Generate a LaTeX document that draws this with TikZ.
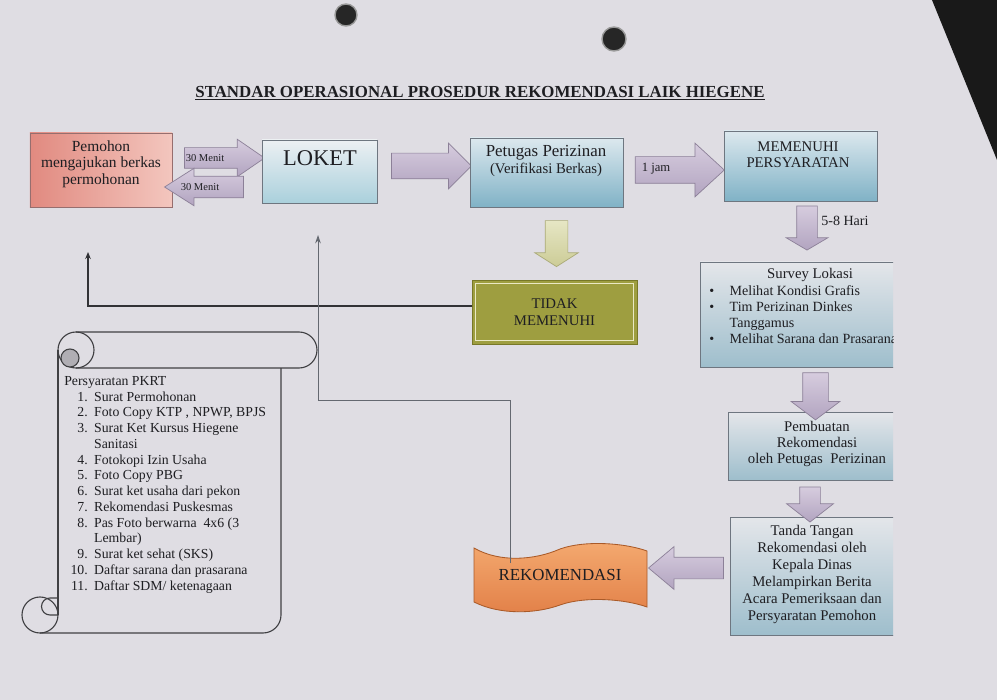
\documentclass[tikz,border=0pt]{standalone}
\usepackage{fontspec}
\setmainfont{Liberation Serif}
\usetikzlibrary{shapes.arrows,arrows.meta}

\definecolor{paper}{RGB}{223,221,227}
\definecolor{ink}{RGB}{30,30,34}
\definecolor{pinkdark}{RGB}{225,138,128}
\definecolor{pinklight}{RGB}{243,198,190}
\definecolor{pinkline}{RGB}{150,110,110}
\definecolor{paletop}{RGB}{236,240,243}
\definecolor{palebot}{RGB}{170,208,220}
\definecolor{bluetop}{RGB}{220,232,238}
\definecolor{bluebot}{RGB}{128,178,198}
\definecolor{greytop}{RGB}{228,230,234}
\definecolor{greybot}{RGB}{158,190,204}
\definecolor{boxline}{RGB}{110,118,128}
\definecolor{arrowtop}{RGB}{214,204,222}
\definecolor{arrowbot}{RGB}{178,164,192}
\definecolor{arrowline}{RGB}{140,128,152}
\definecolor{khakitop}{RGB}{230,230,196}
\definecolor{khakibot}{RGB}{204,204,150}
\definecolor{khakiline}{RGB}{170,170,120}
\definecolor{tidakfill}{RGB}{158,158,64}
\definecolor{tidakline}{RGB}{120,120,40}
\definecolor{cream}{RGB}{234,232,196}
\definecolor{orangetop}{RGB}{244,170,112}
\definecolor{orangebot}{RGB}{226,128,72}
\definecolor{orangeline}{RGB}{170,90,40}
\definecolor{curl}{RGB}{176,174,180}
\definecolor{backline}{RGB}{50,50,54}
\definecolor{thinline}{RGB}{100,104,112}

\tikzset{
	flowbox/.style={draw=boxline, line width=0.5pt, inner sep=0pt},
	pinkbox/.style={flowbox, draw=pinkline, left color=pinkdark, right color=pinklight},
	palebox/.style={flowbox, top color=paletop, bottom color=palebot},
	bluebox/.style={flowbox, top color=bluetop, bottom color=bluebot},
	greybox/.style={flowbox, top color=greytop, bottom color=greybot},
	boxtext/.style={text=ink, align=center, inner sep=0pt},
	blockarrow/.style={single arrow, draw=arrowline, line width=0.5pt, top color=arrowtop, bottom color=arrowbot},
	khakiarrow/.style={blockarrow, draw=khakiline, top color=khakitop, bottom color=khakibot},
	feedback/.style={draw=backline, line width=0.9pt, -{Stealth[length=5pt,width=4pt]}},
	returnline/.style={draw=thinline, line width=0.6pt, -{Stealth[length=6pt,width=4pt]}},
	scroll/.style={draw=ink!85, line width=0.8pt},
}

\begin{document}
\begin{tikzpicture}[x=0.25mm, y=-0.25mm]
	\useasboundingbox (0,0) rectangle (997,700);
	\fill[paper] (0,0) rectangle (997,700);
	\fill[black!90] (932,0) -- (997,0) -- (997,160) -- cycle;
	\filldraw[fill=black!85, draw=black!40, line width=1pt] (346,15) circle[radius=11];
	\filldraw[fill=black!85, draw=black!40, line width=1pt] (614,39) circle[radius=12];

	\node[font=\bfseries\fontsize{12}{14}\selectfont, text=ink] (judul) at (480,93) {\underline{STANDAR OPERASIONAL PROSEDUR REKOMENDASI LAIK HIEGENE}};

	\node[pinkbox, minimum width=35.5mm, minimum height=18.5mm] (pemohon) at (101,170) {};
	\node[boxtext, font=\fontsize{11}{11.8}\selectfont] (pemohon text) at (101,164) {Pemohon\\mengajukan berkas\\permohonan};

	\node[blockarrow, minimum height=20mm, inner sep=2.5mm, single arrow head extend=2.1mm, single arrow tip angle=69] (menit in) at (217,158) {};
	\node[boxtext, font=\fontsize{7.5}{8}\selectfont] (menit in text) at (205,158) {30 Menit};
	\node[blockarrow, shape border rotate=180, minimum height=19.75mm, inner sep=2.6mm, single arrow head extend=2mm, single arrow tip angle=65] (menit out) at (212.5,187) {};
	\node[boxtext, font=\fontsize{7.5}{8}\selectfont] (menit out text) at (200,187) {30 Menit};

	\node[palebox, minimum width=28.75mm, minimum height=15.75mm] (loket) at (319.5,171.5) {};
	\node[boxtext, font=\fontsize{16}{18}\selectfont] (loket text) at (320,158) {LOKET};

	\node[blockarrow, minimum height=20mm, inner sep=3.125mm, single arrow head extend=2.5mm] (ke petugas) at (425,166) {};

	\node[bluebox, minimum width=38.25mm, minimum height=17.25mm] (petugas) at (546.5,172.5) {};
	\node[boxtext, font=\fontsize{12}{12.2}\selectfont] (petugas text) at (546,161) {Petugas Perizinan\\{\fontsize{10.5}{12}\selectfont(Verifikasi Berkas)}};

	\node[blockarrow, minimum height=22.25mm, inner sep=3.25mm, single arrow head extend=3.375mm, single arrow tip angle=85] (ke memenuhi) at (672.5,170) {};
	\node[boxtext, font=\fontsize{9}{10}\selectfont] (jam text) at (656,169) {1 jam};

	\node[bluebox, minimum width=38.25mm, minimum height=17.5mm] (memenuhi) at (800.5,166) {};
	\node[boxtext, font=\fontsize{10.5}{11.6}\selectfont] (memenuhi text) at (798,155) {MEMENUHI\\PERSYARATAN};

	\node[blockarrow, shape border rotate=270, minimum height=11mm, inner sep=2.5mm, single arrow head extend=2.6mm, single arrow tip angle=119] (ke survey) at (807,225) {};
	\node[boxtext, anchor=west, font=\fontsize{10}{11}\selectfont] (hari text) at (821,221) {5-8 Hari};

	\node[khakiarrow, shape border rotate=270, minimum height=11.5mm, inner sep=2.75mm, single arrow head extend=2.6mm, single arrow tip angle=115] (ke tidak) at (556.5,240) {};

	\node[draw=tidakline, fill=tidakfill, minimum width=41.25mm, minimum height=16mm, inner sep=0pt] (tidak) at (554.5,312) {};
	\draw[cream, line width=1pt] ([shift={(4,-4)}]tidak.south west) rectangle ([shift={(-4,4)}]tidak.north east);
	\node[boxtext, font=\fontsize{10.5}{12}\selectfont] (tidak text) at (554.5,312) {TIDAK\\MEMENUHI};

	\begin{scope}
		\clip (690,250) rectangle (893,650);
		\node[greybox, minimum width=52.5mm, minimum height=26.25mm] (survey) at (805,314.5) {};
		\node[boxtext, font=\fontsize{10.5}{12}\selectfont] (survey title) at (810,275) {Survey Lokasi};
		\node[boxtext, align=left, anchor=north west, font=\fontsize{10}{11.4}\selectfont] (survey list) at (709,284) {\begin{tabular}{@{}l@{\hspace{11pt}}l@{}}
			\textbullet & Melihat Kondisi Grafis\\
			\textbullet & Tim Perizinan Dinkes\\
			 & Tanggamus\\
			\textbullet & Melihat Sarana dan Prasarana
		\end{tabular}};

		\node[greybox, minimum width=45.5mm, minimum height=17mm] (pembuatan) at (819,446) {};
		\node[boxtext, font=\fontsize{10.5}{11.6}\selectfont] (pembuatan text) at (817,444) {Pembuatan\\Rekomendasi\\oleh Petugas\ \ Perizinan};

		\node[greybox, minimum width=45mm, minimum height=29.5mm] (tanda) at (820,576) {};
		\node[boxtext, font=\fontsize{10.5}{12.1}\selectfont] (tanda text) at (812,574.5) {Tanda Tangan\\Rekomendasi oleh\\Kepala Dinas\\Melampirkan Berita\\Acara Pemeriksaan dan\\Persyaratan Pemohon};

		\node[blockarrow, shape border rotate=270, minimum height=11.75mm, inner sep=3.125mm, single arrow head extend=2.875mm, single arrow tip angle=106] (ke pembuatan) at (815.5,391.5) {};
		\node[blockarrow, shape border rotate=270, minimum height=8.75mm, inner sep=2.5mm, single arrow head extend=3.25mm, single arrow tip angle=104] (ke tanda) at (810,500.5) {};
	\end{scope}

	\node[blockarrow, shape border rotate=180, minimum height=18.75mm, inner sep=2.625mm, single arrow head extend=2.625mm, single arrow tip angle=80] (ke rekomendasi) at (692.5,568) {};

	\draw[draw=orangeline, line width=0.6pt, top color=orangetop, bottom color=orangebot] (474,548) .. controls (500,563) and (535,560) .. (560,549) .. controls (585,540) and (625,543) .. (647,551) -- (647,607) .. controls (625,599) and (585,596) .. (560,605) .. controls (535,614) and (500,615) .. (474,602) -- cycle;
	\node[boxtext, font=\fontsize{12}{14}\selectfont] (rekomendasi) at (560,575) {REKOMENDASI};

	\draw[scroll] (76,332) -- (299,332) arc[start angle=-90, end angle=90, radius=18] -- (76,368);
	\draw[scroll] (76,350) circle[radius=18];
	\filldraw[scroll, fill=curl] (70,358) circle[radius=9];
	\draw[scroll] (58,350) -- (58,615);
	\draw[scroll] (281,368) -- (281,615) arc[start angle=0, end angle=90, radius=18] -- (40,633);
	\draw[scroll] (40,615) circle[radius=18];
	\draw[scroll] (58,598) -- (50,598) arc[start angle=-90, end angle=-270, radius=8.5] -- (58,615);

	\node[boxtext, align=left, anchor=north west, font=\fontsize{9.8}{11.2}\selectfont] (syarat) at (64,374) {\begin{tabular}{@{\hspace{4.5pt}}r@{\hspace{4.5pt}}l@{}}
		\multicolumn{2}{@{}l@{}}{Persyaratan PKRT}\\
		1. & Surat Permohonan\\
		2. & Foto Copy KTP , NPWP, BPJS\\
		3. & Surat Ket Kursus Hiegene\\
		 & Sanitasi\\
		4. & Fotokopi Izin Usaha\\
		5. & Foto Copy PBG\\
		6. & Surat ket usaha dari pekon\\
		7. & Rekomendasi Puskesmas\\
		8. & Pas Foto berwarna\ \ 4x6 (3\\
		 & Lembar)\\
		9. & Surat ket sehat (SKS)\\
		10. & Daftar sarana dan prasarana\\
		11. & Daftar SDM/ ketenagaan
	\end{tabular}};

	\coordinate (pemohon back) at (88,252);
	\draw[feedback] ([yshift=1.5mm]tidak.west) -| (pemohon back);
	\coordinate (rek top) at (510,563);
	\coordinate (turn) at (318,400);
	\coordinate (loket back) at (318,235);
	\draw[returnline] (rek top) |- (turn) -- (loket back);
\end{tikzpicture}
\end{document}
